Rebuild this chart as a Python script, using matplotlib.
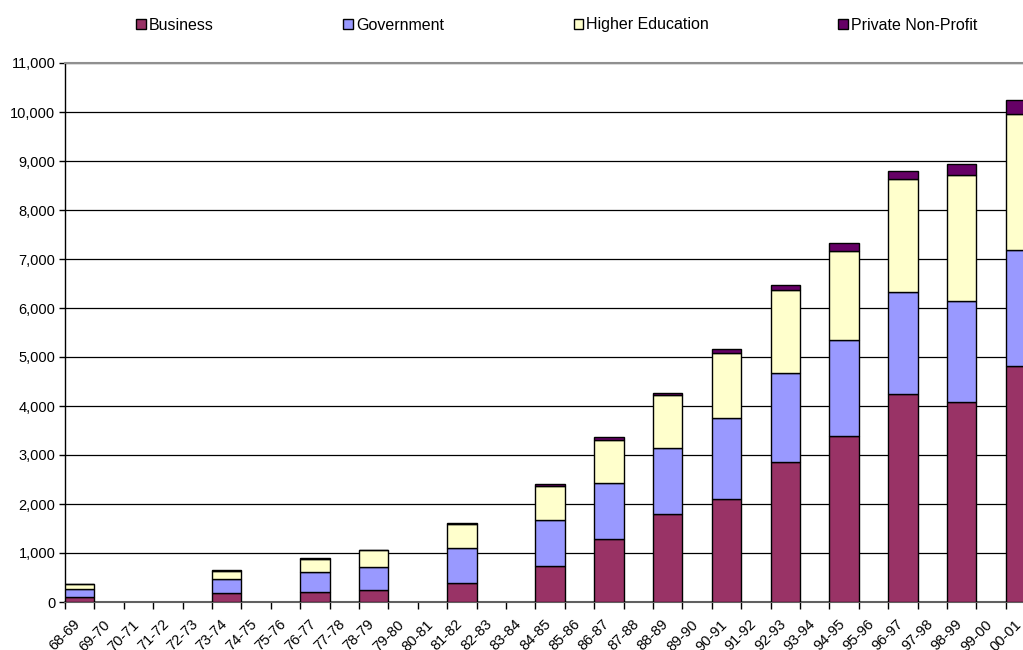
"""Stacked R&D expenditure bars by sector, Excel-style layout."""

import matplotlib

matplotlib.use("Agg")
import matplotlib.pyplot as plt
from matplotlib.ticker import FuncFormatter, MultipleLocator

plt.rcParams["font.family"] = ["Liberation Sans", "DejaVu Sans"]

# every financial year on the category axis
year_labels = [
    "68-69", "69-70", "70-71", "71-72", "72-73", "73-74", "74-75", "75-76",
    "76-77", "77-78", "78-79", "79-80", "80-81", "81-82", "82-83", "83-84",
    "84-85", "85-86", "86-87", "87-88", "88-89", "89-90", "90-91", "91-92",
    "92-93", "93-94", "94-95", "95-96", "96-97", "97-98", "98-99", "99-00",
    "00-01",
]

# years that actually have survey data
survey_years = [
    "68-69", "73-74", "76-77", "78-79", "81-82", "84-85", "86-87",
    "88-89", "90-91", "92-93", "94-95", "96-97", "98-99", "00-01",
]

business = [110, 180, 195, 240, 395, 730, 1280, 1790, 2100, 2850, 3380, 4245, 4085, 4815]
government = [155, 280, 420, 475, 715, 945, 1150, 1345, 1660, 1815, 1965, 2075, 2065, 2365]
higher_ed = [95, 175, 255, 340, 475, 695, 885, 1080, 1330, 1695, 1820, 2310, 2560, 2780]
private_np = [15, 20, 20, 15, 20, 35, 55, 55, 80, 110, 155, 175, 220, 280]

series = [
    ("Business", business, "#993366"),
    ("Government", government, "#9999FF"),
    ("Higher Education", higher_ed, "#FFFFCC"),
    ("Private Non-Profit", private_np, "#660066"),
]


def main():
    W, H = 1023, 650
    fig = plt.figure(figsize=(W / 100, H / 100), dpi=100)

    # plot area in pixels: left edge 65, zero line at y=602, 11,000 at y=63;
    # the category axis runs past the right edge of the image
    slot = 29.4
    left, right = 65, 65 + slot * len(year_labels)
    top, bottom = 63, 602
    ax = fig.add_axes([left / W, (H - bottom) / H, (right - left) / W, (bottom - top) / H])

    x = [year_labels.index(y) for y in survey_years]
    base = [0] * len(x)
    for name, vals, color in series:
        ax.bar(x, vals, width=1.0, bottom=base, align="edge", color=color,
               edgecolor="black", linewidth=1.0, label=name, zorder=3)
        base = [b + v for b, v in zip(base, vals)]

    ax.set_xlim(0, len(year_labels))
    ax.set_ylim(0, 11000)

    ax.set_xticks(range(len(year_labels)))
    ax.set_xticklabels(year_labels, rotation=45, ha="center", va="top")
    ax.yaxis.set_major_locator(MultipleLocator(1000))
    ax.yaxis.set_major_formatter(FuncFormatter(lambda v, p: f"{int(v):,}"))

    ax.tick_params(axis="x", length=5, width=1, pad=6, labelsize=10.5, color="black")
    ax.tick_params(axis="y", length=4, width=1, pad=3, labelsize=10.5, color="black")

    ax.grid(axis="y", color="black", linewidth=0.9, zorder=1)
    ax.set_axisbelow(True)

    ax.spines["right"].set_visible(False)
    ax.spines["top"].set_color("#909090")
    ax.spines["top"].set_linewidth(1.5)
    ax.spines["left"].set_color("black")
    ax.spines["left"].set_linewidth(1.0)
    ax.spines["bottom"].set_color("#606060")
    ax.spines["bottom"].set_linewidth(1.5)

    fig.legend(
        loc="center left", bbox_to_anchor=(130 / W, 1 - 25 / H), ncol=4,
        frameon=False, fontsize=11.5, handlelength=0.6, handleheight=0.6,
        handletextpad=0.2, columnspacing=8.1, borderaxespad=0,
    )

    fig.savefig("out.png", dpi=100)
    plt.close(fig)


if __name__ == "__main__":
    main()
